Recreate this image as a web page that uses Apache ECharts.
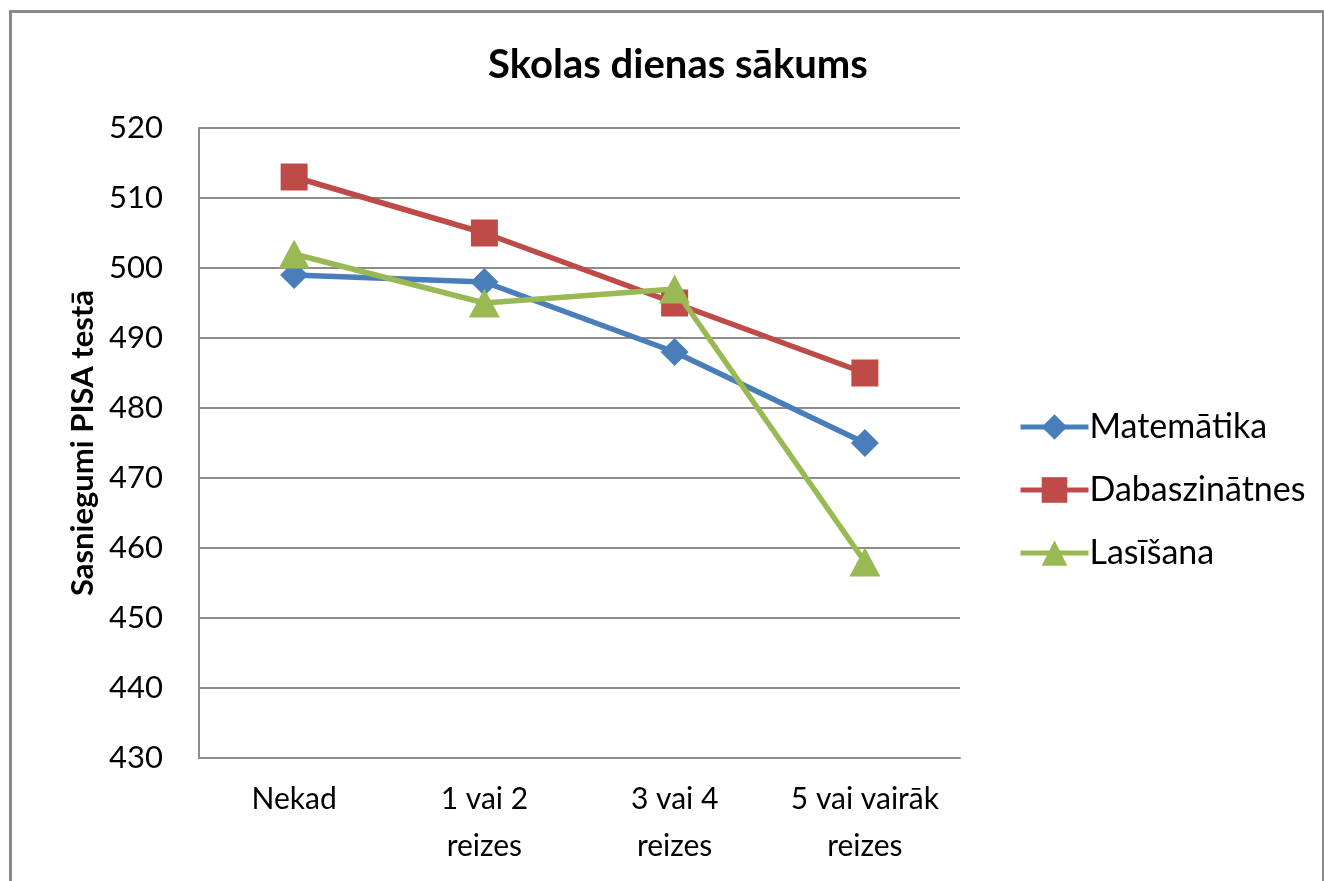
<!DOCTYPE html>
<html>
<head>
<meta charset="utf-8">
<script src="https://cdn.jsdelivr.net/npm/echarts@6/dist/echarts.min.js"></script>
<style>
  html, body { margin: 0; padding: 0; background: #fff; }
  #frame {
    position: absolute; left: 9px; top: 10px; width: 1310px; height: 880px;
    border-top: 3px solid #8a8a8a; border-left: 3px solid #8a8a8a; border-right: 3px solid #8a8a8a;
  }
  #chart { position: absolute; left: 0; top: 0; width: 1324px; height: 881px; }
</style>
</head>
<body>
<div id="frame"></div>
<div id="chart"></div>
<script>
const categories = ['Nekad', '1 vai 2\nreizes', '3 vai 4\nreizes', '5 vai vairāk\nreizes'];
const matematika = [499, 498, 488, 475];
const dabaszinatnes = [513, 505, 495, 485];
const lasisana = [502, 495, 497, 458];

const font = 'Lato, "Open Sans", sans-serif';

const myChart = echarts.init(document.getElementById('chart'));
const option = {
  animation: false,
  textStyle: { fontFamily: font },
  title: {
    text: 'Skolas dienas sākums',
    left: 673,
    top: 40,
    textAlign: 'center',
    textStyle: { fontFamily: font, fontSize: 40, fontWeight: 'bold', color: '#000' },
  },
  grid: {
    left: 199,
    right: 1324 - 960,
    top: 128,
    bottom: 881 - 758,
  },
  legend: {
    orient: 'vertical',
    left: 1013,
    top: 405,
    itemWidth: 68,
    itemHeight: 32,
    itemGap: 29,
    lineStyle: { width: 5 },
    textStyle: { fontFamily: font, fontSize: 34, color: '#000', padding: [0, 0, 0, -4] },
    data: ['Matemātika', 'Dabaszinātnes', 'Lasīšana'],
  },
  xAxis: {
    type: 'category',
    data: categories,
    boundaryGap: true,
    axisLine: { lineStyle: { color: '#8c8c8c', width: 2 } },
    axisTick: { show: false },
    axisLabel: { interval: 0, fontFamily: font, fontSize: 30, color: '#000', lineHeight: 47, margin: 18 },
  },
  yAxis: {
    type: 'value',
    min: 430,
    max: 520,
    interval: 10,
    name: 'Sasniegumi PISA testā',
    nameLocation: 'middle',
    nameGap: 101,
    nameTextStyle: { fontFamily: font, fontSize: 31, fontWeight: 'bold', color: '#000' },
    axisLine: { show: true, lineStyle: { color: '#8c8c8c', width: 2 } },
    axisTick: { show: false },
    axisLabel: { fontFamily: font, fontSize: 31, color: '#000', margin: 36 },
    splitLine: { lineStyle: { color: '#8c8c8c', width: 2 } },
  },
  series: [
    {
      name: 'Matemātika',
      type: 'line',
      data: matematika,
      symbol: 'diamond',
      symbolSize: 28,
      lineStyle: { color: '#4a7ebb', width: 5.5 },
      itemStyle: { color: '#4a7ebb' },
      z: 3,
    },
    {
      name: 'Dabaszinātnes',
      type: 'line',
      data: dabaszinatnes,
      symbol: 'rect',
      symbolSize: 27,
      lineStyle: { color: '#be4b48', width: 5.5 },
      itemStyle: { color: '#be4b48' },
      z: 2,
    },
    {
      name: 'Lasīšana',
      type: 'line',
      data: lasisana,
      symbol: 'triangle',
      symbolSize: [31, 29],
      lineStyle: { color: '#98b954', width: 5.5 },
      itemStyle: { color: '#98b954' },
      z: 4,
    },
  ],
};
myChart.setOption(option);
</script>
</body>
</html>
